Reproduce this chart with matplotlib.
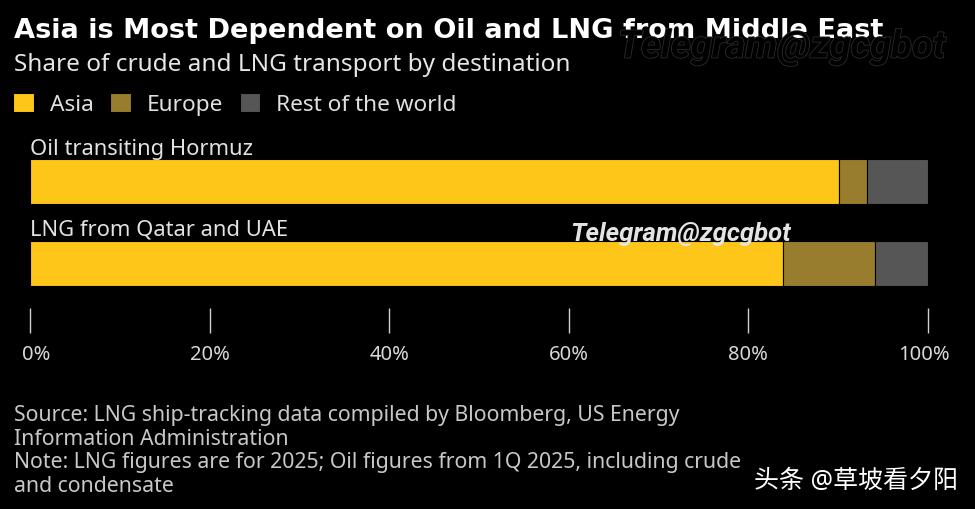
import matplotlib
matplotlib.use('Agg')
import matplotlib.pyplot as plt
import matplotlib.patheffects as pe
from matplotlib.transforms import ScaledTranslation

plt.rcParams['font.family'] = ['Noto Sans', 'Noto Sans CJK SC', 'DejaVu Sans']

routes = ['Oil transiting Hormuz', 'LNG from Qatar and UAE']
asia = [90.1, 83.9]
europe = [3.1, 10.2]
rest = [6.8, 5.9]
tick_values = [0, 20, 40, 60, 80, 100]
tick_labels = ['0%', '20%', '40%', '60%', '80%', '100%']

W, H = 975, 509
fig = plt.figure(figsize=(W / 100, H / 100), dpi=100, facecolor='black')
# axes box set in pixels: x 30-928, y 140-333
ax = fig.add_axes([30 / W, 1 - 333 / H, 898 / W, 193 / H], facecolor='black')

#堆叠条形
left = [0, 0]
series = [('Asia', asia, '#FFC61A'), ('Europe', europe, '#997D2F'), ('Rest of the world', rest, '#565656')]
bars = []
for name, values, color in series:
    b = ax.barh([0, 1], values, height=0.55, left=left, color=color, edgecolor='black', linewidth=0.8, label=name)
    bars.append(b)
    left = [l + v for l, v in zip(left, values)]

ax.set_xlim(0, 100)
ax.set_ylim(1.848, -0.506)
ax.set_yticks([])
for s in ax.spines.values():
    s.set_visible(False)

ax.set_xticks(tick_values)
ax.set_xticklabels(tick_labels, fontsize=14.5, color='#d8d8d8')
ax.tick_params(axis='x', direction='in', length=18, width=1, color='#d0d0d0', pad=9)

#首尾刻度文字稍微往里挪
labels = ax.get_xticklabels()
labels[0].set_transform(labels[0].get_transform() + ScaledTranslation(6 / 100, 0, fig.dpi_scale_trans))
labels[-1].set_transform(labels[-1].get_transform() + ScaledTranslation(-4 / 100, 0, fig.dpi_scale_trans))

#条形上方的名称
for i, name in enumerate(routes):
    ax.text(0, i - 0.26 - 0.02 * i, name, fontsize=15.8, color='#e2e2e2', va='bottom', ha='left')

#标题
fig.text(14 / W, 1 - 31 / H, 'Asia is Most Dependent on Oil and LNG from Middle East', fontsize=19.6,
         family='DejaVu Sans', fontweight='bold', color='white', va='center', ha='left')
fig.text(14 / W, 1 - 65 / H, 'Share of crude and LNG transport by destination', fontsize=17.5,
         color='#e6e6e6', va='center', ha='left')

#图例
fig.legend(handles=[b[0] for b in bars], labels=[s[0] for s in series], loc='upper left',
           bbox_to_anchor=(-7 / W, 1 - 73 / H), ncol=3, frameon=False, fontsize=16.3,
           handlelength=0.9, handleheight=0.9, handletextpad=0.72,
           columnspacing=0.72, labelcolor='#e0e0e0')

#来源
source = ('Source: LNG ship-tracking data compiled by Bloomberg, US Energy\n'
          'Information Administration\n'
          'Note: LNG figures are for 2025; Oil figures from 1Q 2025, including crude\n'
          'and condensate')
fig.text(14 / W, 1 - 451 / H, source, fontsize=15.3, color='#c8c8c8', va='center', ha='left', linespacing=1.17)

#水印
fig.text(681 / W, 1 - 234 / H, 'Telegram@zgcgbot', fontsize=18.5, family='Roboto', fontweight='bold', style='italic',
         color='#e4e4e4', va='center', ha='center')
fig.text(782 / W, 1 - 47 / H, 'Telegram@zgcgbot', fontsize=27.5, family='Roboto', fontweight='bold', style='italic',
         color='black', va='center', ha='center',
         path_effects=[pe.withStroke(linewidth=1.2, foreground='#2c2c2c')])
fig.text(754 / W, 1 - 481 / H, '头条 @草坡看夕阳', fontsize=18, color='white', va='center', ha='left')

fig.savefig('out.png', dpi=100, facecolor='black')
